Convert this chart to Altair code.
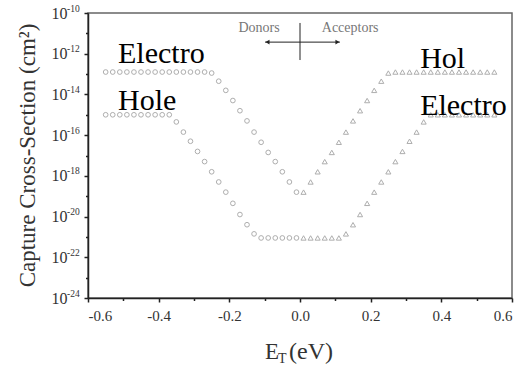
import altair as alt
import pandas as pd

FONT = "Liberation Serif"

# ---- data (exponents of the capture cross-section, cm^2) ----
X_DONOR = [-0.55, -0.53, -0.51, -0.49, -0.47, -0.45, -0.43, -0.41, -0.39, -0.37,
           -0.35, -0.33, -0.31, -0.29, -0.27, -0.25, -0.23, -0.21, -0.19, -0.17,
           -0.15, -0.13, -0.11, -0.09, -0.07, -0.05, -0.03, -0.01]
ELECTRON_DONOR_EXP = [-12.9, -12.9, -12.9, -12.9, -12.9, -12.9, -12.9, -12.9, -12.9, -12.9,
                      -12.9, -12.9, -12.9, -12.9, -12.9, -12.95, -13.35, -13.8, -14.3, -14.8,
                      -15.3, -15.85, -16.35, -16.85, -17.3, -17.8, -18.3, -18.8]
HOLE_DONOR_EXP = [-15.0, -15.0, -15.0, -15.0, -15.0, -15.0, -15.0, -15.0, -15.0, -15.0,
                  -15.35, -15.85, -16.3, -16.8, -17.3, -17.8, -18.3, -18.8, -19.35, -19.9,
                  -20.4, -20.85, -21.05, -21.05, -21.05, -21.05, -21.05, -21.05]

X_ACCEPTOR = [0.01, 0.03, 0.05, 0.07, 0.09, 0.11, 0.13, 0.15, 0.17, 0.19,
              0.21, 0.23, 0.25, 0.27, 0.29, 0.31, 0.33, 0.35, 0.37, 0.39,
              0.41, 0.43, 0.45, 0.47, 0.49, 0.51, 0.53, 0.55]
HOLE_ACCEPTOR_EXP = [-18.8, -18.3, -17.8, -17.3, -16.85, -16.35, -15.85, -15.3, -14.8, -14.3,
                     -13.8, -13.35, -12.95, -12.9, -12.9, -12.9, -12.9, -12.9, -12.9, -12.9,
                     -12.9, -12.9, -12.9, -12.9, -12.9, -12.9, -12.9, -12.9]
ELECTRON_ACCEPTOR_EXP = [-21.05, -21.05, -21.05, -21.05, -21.05, -21.05, -20.85, -20.4, -19.9, -19.35,
                         -18.8, -18.3, -17.8, -17.3, -16.8, -16.3, -15.85, -15.35, -15.0, -15.0,
                         -15.0, -15.0, -15.0, -15.0, -15.0, -15.0, -15.0, -15.0]

X_MAJOR_TICKS = [-0.6, -0.4, -0.2, 0.0, 0.2, 0.4, 0.6]
X_MINOR_TICKS = [-0.5, -0.3, -0.1, 0.1, 0.3, 0.5]
Y_MAJOR_TICKS = [1e-24, 1e-22, 1e-20, 1e-18, 1e-16, 1e-14, 1e-12, 1e-10]
Y_MINOR_TICKS = [1e-23, 1e-21, 1e-19, 1e-17, 1e-15, 1e-13, 1e-11]
Y_TICK_BASE = "10"
Y_TICK_SUPERSCRIPTS = ["-24", "-22", "-20", "-18", "-16", "-14", "-12", "-10"]

# annotation texts (x in eV, exponent of y)
BIG_LABELS = ["Electro", "Hole", "Hol", "Electro"]
BIG_LABEL_X = [-0.515, -0.515, 0.34, 0.34]
BIG_LABEL_EXP = [-12.46, -14.78, -12.70, -15.02]
SIDE_LABELS = ["Donors", "Acceptors"]
SIDE_LABEL_X = [-0.116, 0.142]
SIDE_LABEL_EXP = [-10.74, -10.74]
ARROW_X = [-0.099, 0.113]
ARROW_EXP = -11.43
ARROW_HEAD_X = [-0.092, 0.106]
DIVIDER_EXP = [-10.49, -12.31]

# ---- tables ----
rows = []
for x, e in zip(X_DONOR, ELECTRON_DONOR_EXP):
    rows.append(dict(E=x, sigma=10.0 ** e, series="Electron", side="donor"))
for x, e in zip(X_DONOR, HOLE_DONOR_EXP):
    rows.append(dict(E=x, sigma=10.0 ** e, series="Hole", side="donor"))
for x, e in zip(X_ACCEPTOR, HOLE_ACCEPTOR_EXP):
    rows.append(dict(E=x, sigma=10.0 ** e, series="Hole", side="acceptor"))
for x, e in zip(X_ACCEPTOR, ELECTRON_ACCEPTOR_EXP):
    rows.append(dict(E=x, sigma=10.0 ** e, series="Electron", side="acceptor"))
df = pd.DataFrame(rows)
donor_df = df[df.side == "donor"]
acceptor_df = df[df.side == "acceptor"]

big_df = pd.DataFrame(dict(E=BIG_LABEL_X, sigma=[10.0 ** e for e in BIG_LABEL_EXP], text=BIG_LABELS))
side_df = pd.DataFrame(dict(E=SIDE_LABEL_X, sigma=[10.0 ** e for e in SIDE_LABEL_EXP], text=SIDE_LABELS))
arrow_df = pd.DataFrame(dict(E=[ARROW_X[0]], E2=[ARROW_X[1]], sigma=[10.0 ** ARROW_EXP]))
head_df = pd.DataFrame(dict(E=ARROW_HEAD_X, sigma=[10.0 ** ARROW_EXP] * 2,
                            shape=["triangle-left", "triangle-right"]))
divider_df = pd.DataFrame(dict(E=[0.0], sigma=[10.0 ** DIVIDER_EXP[0]], sigma2=[10.0 ** DIVIDER_EXP[1]]))
sup_df = pd.DataFrame(dict(sigma=Y_MAJOR_TICKS, text=Y_TICK_SUPERSCRIPTS))

x_scale = alt.Scale(domain=[-0.6, 0.6], nice=False, zero=False)
y_scale = alt.Scale(type="log", domain=[1e-24, 1e-10], nice=False)

axis_common = dict(grid=False, domainColor="#222", domainWidth=1.5, tickColor="#222",
                   tickWidth=1.5, labelFont=FONT, labelColor="#333")

x_major = alt.Axis(values=X_MAJOR_TICKS, title=None, tickSize=4, labelFontSize=15,
                   labelPadding=6, orient="bottom",
                   labelExpr="replace(format(datum.value, '.1f'), '\u2212', '-')", **axis_common)
x_minor = alt.Axis(values=X_MINOR_TICKS, title=None, tickSize=2.5, labels=False, domain=False,
                   orient="bottom", grid=False, tickColor="#222", tickWidth=1.5)
y_major = alt.Axis(values=Y_MAJOR_TICKS, tickSize=4, labelFontSize=16, labelPadding=17,
                   orient="left", labelExpr="'" + Y_TICK_BASE + "'",
                   title="Capture Cross-Section (cm\u00b2)", titleFont=FONT, titleFontSize=23,
                   titleFontWeight="normal", titleColor="#333", titleX=-54, titleY=142,
                   titleAngle=-90, titleBaseline="alphabetic", titleAlign="center", **axis_common)
y_minor = alt.Axis(values=Y_MINOR_TICKS, title=None, tickSize=2.5, labels=False, domain=False,
                   orient="left", grid=False, tickColor="#222", tickWidth=1.5)

MARK_COLOR = "#8c8c8c"

circles = alt.Chart(donor_df).mark_point(shape="circle", filled=False, color=MARK_COLOR,
                                          strokeWidth=1, size=22).encode(
    x=alt.X("E:Q", scale=x_scale, axis=x_major),
    y=alt.Y("sigma:Q", scale=y_scale, axis=y_major),
    detail="series:N",
)
triangles = alt.Chart(acceptor_df).mark_point(shape="triangle-up", filled=False, color=MARK_COLOR,
                                               strokeWidth=1, size=26).encode(
    x=alt.X("E:Q", scale=x_scale, axis=x_minor),
    y=alt.Y("sigma:Q", scale=y_scale, axis=y_minor),
    detail="series:N",
)


def xy():
    return dict(x=alt.X("E:Q", scale=x_scale, axis=None), y=alt.Y("sigma:Q", scale=y_scale, axis=None))


big_text = alt.Chart(big_df).mark_text(font=FONT, fontSize=30, align="left", baseline="alphabetic",
                                       color="black").encode(text="text:N", **xy())
side_text = alt.Chart(side_df).mark_text(font=FONT, fontSize=14, align="center", baseline="middle",
                                         color="#777777").encode(text="text:N", **xy())
arrow = alt.Chart(arrow_df).mark_rule(color="#222", strokeWidth=1).encode(
    x=alt.X("E:Q", scale=x_scale, axis=None), x2="E2:Q",
    y=alt.Y("sigma:Q", scale=y_scale, axis=None))
heads = alt.Chart(head_df).mark_point(filled=True, color="#222", size=22, opacity=1).encode(
    shape=alt.Shape("shape:N", scale=None), **xy())
divider = alt.Chart(divider_df).mark_rule(color="#222", strokeWidth=1).encode(
    x=alt.X("E:Q", scale=x_scale, axis=None),
    y=alt.Y("sigma:Q", scale=y_scale, axis=None), y2="sigma2:Q")
sups = alt.Chart(sup_df).mark_text(font=FONT, fontSize=9.5, align="left", baseline="alphabetic",
                                   color="#333", dy=-1.5).encode(
    x=alt.value(-21), y=alt.Y("sigma:Q", scale=y_scale, axis=None), text="text:N")

one = pd.DataFrame(dict(t=["E", "T", "(eV)"]))
xt_E = alt.Chart(one[one.t == "E"]).mark_text(font=FONT, fontSize=23, align="left",
                                              baseline="alphabetic", color="#333").encode(
    x=alt.value(177), y=alt.value(346), text="t:N")
xt_T = alt.Chart(one[one.t == "T"]).mark_text(font=FONT, fontSize=14, align="left",
                                              baseline="alphabetic", color="#333").encode(
    x=alt.value(190), y=alt.value(350), text="t:N")
xt_U = alt.Chart(one[one.t == "(eV)"]).mark_text(font=FONT, fontSize=24, align="left",
                                                 baseline="alphabetic", color="#333").encode(
    x=alt.value(201), y=alt.value(346), text="t:N")

chart = alt.layer(circles, triangles, arrow, divider, heads, side_text, big_text, sups,
                  xt_E, xt_T, xt_U).resolve_axis(
    x="independent", y="independent"
).properties(
    width=424, height=285,
    autosize=alt.AutoSizeParams(type="none"),
    padding={"left": 88, "top": 13, "right": 18, "bottom": 71},
    background="white",
).configure_view(stroke="#666666", strokeWidth=1.5)

chart.save("out.html", embed_options={"renderer": "svg", "actions": False})
